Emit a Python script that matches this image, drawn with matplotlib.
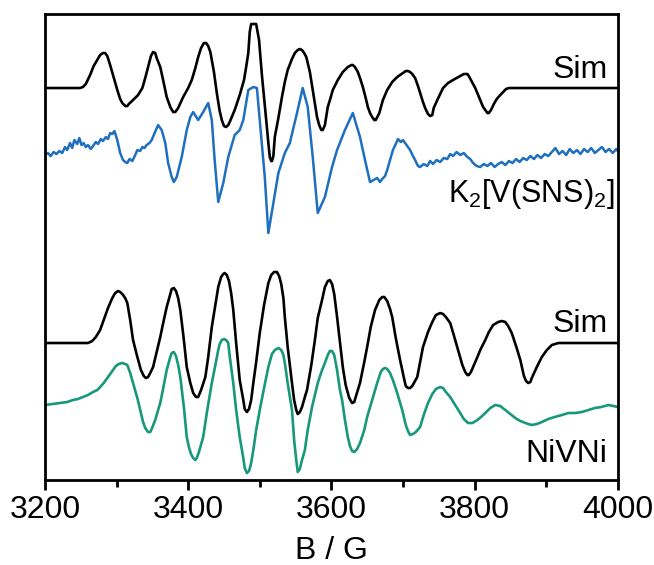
import matplotlib
matplotlib.use("Agg")
import matplotlib.pyplot as plt
from matplotlib.ticker import MultipleLocator

plt.rcParams['font.family'] = ['Liberation Sans', 'DejaVu Sans']
plt.rcParams['mathtext.fontset'] = 'custom'
plt.rcParams['mathtext.rm'] = 'Liberation Sans'
plt.rcParams['mathtext.it'] = 'Liberation Sans:italic'

# ---- data (B in Gauss, intensity in arbitrary offset units) ----
sim1_B = [3200, 3249, 3253, 3257, 3263, 3268, 3273, 3277, 3281, 3284,
          3287, 3291, 3295, 3301, 3305, 3308, 3312, 3315, 3317, 3323,
          3330, 3336, 3340, 3344, 3348, 3351, 3354, 3356, 3361, 3365,
          3370, 3375, 3379, 3382, 3386, 3393, 3400, 3405, 3410, 3414,
          3418, 3422, 3425, 3428, 3431, 3433, 3436, 3440, 3444, 3447,
          3450, 3453, 3456, 3458, 3465, 3472, 3478, 3481, 3484, 3486,
          3488, 3495, 3496, 3499, 3503, 3506, 3509, 3512, 3514, 3516,
          3517, 3519, 3521, 3526, 3531, 3535, 3539, 3545, 3549, 3553,
          3556, 3559, 3562, 3565, 3567, 3570, 3574, 3577, 3580, 3583,
          3586, 3588, 3591, 3595, 3598, 3602, 3609, 3616, 3623, 3628,
          3630, 3633, 3637, 3640, 3644, 3648, 3651, 3654, 3657, 3660,
          3662, 3667, 3672, 3678, 3685, 3692, 3700, 3704, 3707, 3710,
          3713, 3717, 3721, 3724, 3728, 3731, 3735, 3738, 3741, 3743,
          3748, 3752, 3756, 3763, 3770, 3780, 3785, 3790, 3792, 3795,
          3798, 3801, 3805, 3808, 3812, 3815, 3818, 3820, 3823, 3827,
          3831, 3836, 3840, 3844, 3848, 4000]
sim1_I = [392, 392, 393, 396, 405, 414, 420, 425, 427, 427,
          424, 415, 405, 390, 381, 377, 374, 374, 376, 380,
          385, 392, 402, 413, 424, 428, 427, 422, 413, 400,
          383, 373, 368, 368, 372, 383, 392, 400, 412, 423,
          432, 437, 437, 434, 428, 420, 408, 387, 369, 360,
          354, 353, 355, 358, 370, 385, 400, 413, 427, 448,
          456, 456, 452, 440, 405, 383, 360, 337, 323, 319,
          319, 324, 343, 362, 383, 398, 410, 421, 427, 430,
          431, 430, 427, 423, 417, 408, 390, 376, 363, 355,
          350, 350, 355, 373, 380, 390, 400, 408, 413, 415,
          415, 413, 408, 402, 393, 382, 373, 367, 363, 360,
          360, 367, 380, 390, 398, 403, 407, 409, 409, 408,
          406, 402, 394, 387, 378, 372, 366, 364, 365, 372,
          380, 386, 392, 397, 400, 404, 406, 406, 404, 400,
          396, 392, 385, 380, 373, 370, 367, 367, 370, 376,
          381, 385, 388, 391, 392, 392]

exp1_B = [3200, 3204, 3208, 3212, 3216, 3220, 3224, 3228, 3231, 3235,
          3238, 3241, 3245, 3248, 3251, 3254, 3257, 3260, 3264, 3267,
          3271, 3274, 3278, 3281, 3285, 3288, 3291, 3294, 3297, 3301,
          3305, 3309, 3312, 3315, 3318, 3322, 3326, 3329, 3333, 3336,
          3339, 3342, 3346, 3349, 3352, 3355, 3358, 3363, 3368, 3372,
          3377, 3380, 3384, 3391, 3398, 3403, 3407, 3414, 3421, 3428,
          3433, 3437, 3442, 3449, 3456, 3465, 3472, 3477, 3484, 3491,
          3496, 3500, 3507, 3512, 3519, 3526, 3535, 3542, 3552, 3560,
          3567, 3574, 3581, 3591, 3601, 3608, 3619, 3630, 3640, 3647,
          3654, 3664, 3668, 3671, 3675, 3678, 3682, 3686, 3690, 3693,
          3697, 3700, 3705, 3710, 3714, 3717, 3721, 3724, 3729, 3734,
          3738, 3742, 3747, 3752, 3757, 3762, 3766, 3770, 3775, 3780,
          3785, 3790, 3794, 3798, 3803, 3808, 3813, 3818, 3823, 3828,
          3833, 3838, 3843, 3848, 3853, 3858, 3863, 3868, 3873, 3878,
          3883, 3888, 3893, 3898, 3903, 3908, 3913, 3918, 3923, 3928,
          3933, 3938, 3943, 3948, 3953, 3958, 3963, 3968, 3973, 3978,
          3983, 3988, 3993, 3998, 4000]
exp1_I = [325, 327, 324, 328, 326, 329, 327, 333, 330, 337,
          332, 340, 336, 342, 335, 337, 333, 335, 331, 334,
          338, 336, 341, 339, 343, 341, 347, 346, 349, 340,
          327, 320, 318, 317, 321, 319, 325, 330, 329, 333,
          332, 335, 337, 340, 345, 350, 355, 350, 337, 317,
          303, 298, 303, 323, 350, 363, 368, 360, 368, 377,
          360, 320, 278, 297, 323, 345, 350, 360, 390, 393,
          392, 360, 303, 247, 277, 307, 327, 337, 367, 392,
          373, 323, 267, 283, 313, 330, 350, 367, 343, 320,
          298, 302, 298, 301, 304, 310, 320, 330, 336, 341,
          338, 340, 335, 330, 324, 320, 314, 313, 316, 314,
          319, 316, 320, 318, 322, 321, 326, 324, 328, 325,
          327, 323, 321, 317, 314, 313, 316, 314, 317, 313,
          316, 318, 315, 319, 317, 321, 318, 322, 320, 324,
          321, 325, 322, 326, 324, 328, 332, 326, 329, 325,
          331, 327, 330, 326, 331, 328, 332, 327, 330, 333,
          328, 331, 327, 331, 329]

sim2_B = [3200, 3260, 3266, 3271, 3277, 3282, 3288, 3294, 3298, 3302,
          3305, 3308, 3312, 3315, 3319, 3323, 3329, 3334, 3338, 3341,
          3344, 3347, 3351, 3356, 3361, 3366, 3370, 3375, 3377, 3380,
          3383, 3386, 3389, 3394, 3398, 3403, 3407, 3411, 3414, 3418,
          3424, 3428, 3433, 3438, 3442, 3446, 3449, 3451, 3454, 3457,
          3460, 3463, 3467, 3472, 3477, 3479, 3482, 3485, 3488, 3491,
          3495, 3500, 3506, 3512, 3516, 3520, 3524, 3527, 3530, 3533,
          3535, 3539, 3545, 3548, 3551, 3553, 3556, 3559, 3563, 3566,
          3572, 3577, 3581, 3587, 3591, 3595, 3598, 3601, 3604, 3608,
          3612, 3616, 3620, 3625, 3629, 3632, 3634, 3640, 3646, 3650,
          3655, 3661, 3667, 3671, 3674, 3678, 3682, 3685, 3690, 3696,
          3702, 3704, 3707, 3710, 3713, 3720, 3724, 3728, 3735, 3741,
          3746, 3752, 3756, 3760, 3766, 3771, 3777, 3783, 3787, 3790,
          3792, 3795, 3798, 3804, 3808, 3815, 3820, 3826, 3833, 3838,
          3843, 3847, 3852, 3858, 3864, 3869, 3872, 3875, 3878, 3880,
          3887, 3894, 3901, 3908, 3917, 4000]
sim2_I = [137, 137, 139, 143, 150, 160, 172, 182, 187, 189,
          188, 186, 182, 177, 160, 140, 123, 110, 104, 102,
          103, 107, 113, 128, 143, 160, 173, 186, 191, 192,
          189, 182, 170, 140, 113, 97, 87, 83, 83, 90,
          103, 123, 153, 175, 193, 203, 206, 207, 205, 199,
          187, 170, 137, 100, 80, 71, 68, 71, 80, 97,
          118, 147, 175, 197, 205, 208, 208, 204, 196, 182,
          163, 133, 97, 80, 70, 66, 68, 73, 83, 90,
          115, 140, 162, 180, 193, 199, 200, 196, 186, 163,
          138, 113, 95, 82, 77, 78, 83, 97, 118, 133,
          153, 170, 180, 183, 183, 179, 171, 163, 142, 120,
          100, 94, 92, 92, 94, 103, 118, 133, 148, 158,
          165, 167, 166, 163, 157, 145, 130, 115, 108, 105,
          105, 108, 113, 123, 130, 140, 148, 155, 158, 159,
          158, 154, 147, 134, 120, 104, 99, 97, 98, 102,
          113, 123, 130, 135, 137, 137]

exp2_B = [3200, 3210, 3221, 3231, 3239, 3246, 3253, 3260, 3267, 3273,
          3277, 3282, 3287, 3291, 3295, 3299, 3303, 3308, 3312, 3315,
          3319, 3323, 3329, 3333, 3337, 3340, 3344, 3347, 3349, 3354,
          3358, 3361, 3366, 3370, 3375, 3377, 3380, 3383, 3386, 3389,
          3394, 3398, 3401, 3404, 3407, 3410, 3412, 3415, 3421, 3426,
          3433, 3438, 3442, 3444, 3447, 3450, 3453, 3456, 3458, 3463,
          3467, 3472, 3477, 3479, 3482, 3485, 3488, 3491, 3495, 3500,
          3506, 3512, 3517, 3521, 3526, 3530, 3533, 3535, 3539, 3545,
          3548, 3551, 3553, 3556, 3559, 3563, 3567, 3573, 3577, 3581,
          3587, 3591, 3595, 3598, 3601, 3604, 3608, 3612, 3615, 3619,
          3623, 3626, 3629, 3632, 3636, 3640, 3646, 3650, 3657, 3664,
          3669, 3672, 3675, 3678, 3682, 3686, 3692, 3699, 3704, 3707,
          3710, 3714, 3718, 3724, 3729, 3735, 3741, 3746, 3752, 3756,
          3760, 3766, 3773, 3780, 3785, 3791, 3797, 3804, 3809, 3815,
          3822, 3829, 3836, 3843, 3850, 3857, 3864, 3871, 3880, 3887,
          3894, 3903, 3912, 3922, 3931, 3940, 3950, 3959, 3968, 3977,
          3987, 3994, 4000]
exp2_I = [75, 76, 77, 78, 80, 81, 83, 85, 88, 90,
          93, 97, 102, 106, 110, 114, 116, 117, 116, 115,
          107, 97, 82, 70, 58, 52, 48, 48, 51, 60,
          70, 77, 95, 110, 123, 127, 128, 124, 115, 103,
          73, 43, 33, 26, 22, 20, 22, 28, 43, 67,
          97, 115, 130, 136, 140, 141, 140, 137, 124, 97,
          70, 43, 22, 12, 7, 9, 17, 30, 50, 70,
          92, 113, 126, 130, 132, 130, 125, 117, 97, 70,
          40, 20, 8, 11, 20, 30, 50, 73, 85, 97,
          110, 117, 125, 129, 129, 125, 110, 90, 80, 60,
          43, 34, 29, 28, 31, 37, 50, 63, 80, 97,
          108, 111, 112, 111, 107, 100, 87, 70, 55, 49,
          45, 46, 48, 53, 65, 77, 86, 91, 93, 92,
          88, 83, 75, 67, 61, 57, 57, 60, 63, 67,
          72, 75, 74, 70, 66, 62, 59, 57, 55, 56,
          58, 61, 63, 65, 67, 67, 68, 70, 72, 73,
          75, 74, 73]

labels = ["Sim", r"K$_2$[V(SNS)$_2$]", "Sim", "NiVNi"]
label_x = [3986, 3995, 3986, 3986]
label_y = [402, 278, 148, 18]
label_size = [23, 22, 23, 23]
x_ticks = [3200, 3400, 3600, 3800, 4000]

# ---- figure ----
fig = plt.figure(figsize=(6.54, 5.65), dpi=100)
ax = fig.add_axes([0.0688, 0.1504, 0.8757, 0.8248])

lw = 1.9
ax.plot(sim1_B, sim1_I, color='black', lw=lw, solid_joinstyle='round')
ax.plot(exp1_B, exp1_I, color='#1f6fbf', lw=1.8, solid_joinstyle='round')
ax.plot(sim2_B, sim2_I, color='black', lw=lw, solid_joinstyle='round')
ax.plot(exp2_B, exp2_I, color='#17987a', lw=lw, solid_joinstyle='round')

for t, x, y, fs in zip(labels, label_x, label_y, label_size):
    ax.text(x, y, t, ha='right', va='baseline', fontsize=fs)

ax.set_xlim(3200, 4000)
ax.set_ylim(0, 466)
ax.set_xticks(x_ticks)
ax.xaxis.set_minor_locator(MultipleLocator(100))
ax.set_yticks([])
for s in ax.spines.values():
    s.set_linewidth(2.0)
ax.tick_params(axis='x', which='major', direction='out', length=7, width=2.0,
               labelsize=23, pad=4)
ax.tick_params(axis='x', which='minor', direction='out', length=5, width=2.0)
ax.set_xlabel("B / G", fontsize=23, labelpad=8)

fig.savefig("out.png", dpi=100)
